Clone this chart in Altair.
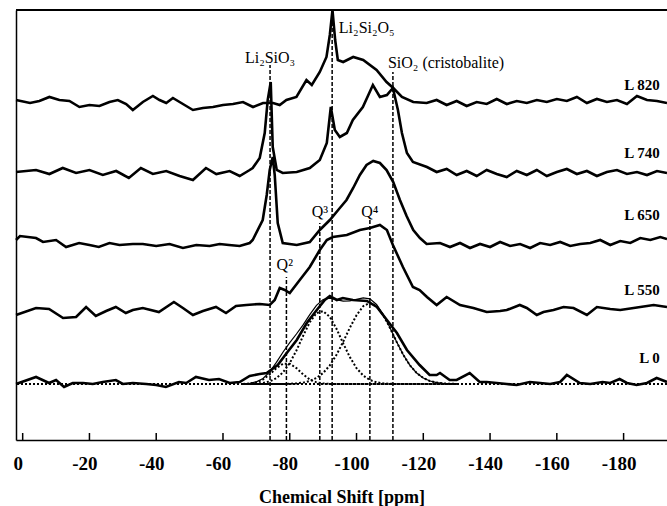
import altair as alt
import pandas as pd

# ---------------- data (chemical shift in ppm, intensity in arbitrary units) ----------------
l820_ppm = [2.0, -2.2, -5, -8, -11, -14, -17, -20, -23, -26, -28.5, -31, -33, -36, -39, -41, -43, -45,
            -48, -51, -54, -57, -60, -63, -66, -69, -72, -75, -77, -79, -82, -85, -86.6, -89, -91, -92.0,
            -92.8, -93.6, -94.4, -96, -99, -102, -106, -109, -111, -113.6, -117, -121, -124, -127, -130,
            -133, -136, -139, -142, -145, -148, -151, -154, -157, -160, -163, -166, -169, -172, -175,
            -178, -181, -184, -187, -190, -193]
l820_int = [340, 337, 339, 343, 340, 339, 333, 335, 334, 338, 340, 336, 330, 338, 344, 340, 337, 342,
            336, 330, 332, 333, 335, 336, 338, 333, 337, 337, 335, 340, 343, 360, 355, 368, 383, 405,
            430, 400, 380, 378, 383, 380, 370, 358, 352, 343, 338, 337, 340, 335, 339,
            334, 338, 336, 341, 336, 339, 337, 340, 338, 341, 339, 343, 337, 341, 338,
            340, 336, 344, 340, 339, 337]

l740_ppm = [2, -4, -8, -12, -16, -20, -24, -28, -31.8, -35.4, -39, -43, -47, -51, -54.9, -58, -62, -65,
            -68, -68.9, -71, -72.5, -73.4, -74.3, -74.9, -76.1, -77.9, -82.1, -86, -89, -91.1, -92.3,
            -93.5, -95, -97.1, -98.9, -101.9, -104.9, -107, -109.1, -110.9, -112.4, -113.6, -115.1,
            -116.9, -121.1, -124, -127, -130, -133, -136, -139, -142, -145, -148, -151, -154, -157,
            -160, -163, -166, -169, -172, -175, -178, -181, -184, -187, -190, -193]
l740_int = [268, 270, 266, 272, 267, 270, 265, 269, 262, 272, 266, 269, 264, 260, 272, 266, 269, 264,
            270, 272, 282, 307, 340, 358, 293, 270, 267, 268, 272, 280, 297, 333,
            310, 303, 307, 320, 333, 355, 343, 345, 352, 330, 307, 287,
            278, 273, 268, 271, 265, 269, 264, 270, 266, 263, 269, 265, 270, 264,
            268, 271, 266, 269, 264, 268, 270, 266, 268, 265, 269, 267]

l650_ppm = [2, 0.8, -4, -6.1, -10, -13, -16.9, -20, -22.8, -26, -29, -33, -36, -40, -44, -48, -52, -56,
            -59, -61.8, -65, -68, -68.9, -71.9, -73.1, -74.0, -74.9, -75.5, -76.4, -77.9, -82.1, -86,
            -89, -92, -95, -97, -99, -101, -103, -105, -107, -109, -111, -113, -115, -117, -119, -121,
            -125, -128, -131, -134, -137, -140, -143, -146, -149, -152, -155, -158, -161, -164, -167,
            -170, -173, -176, -179, -182, -185, -188, -191, -193]
l650_int = [200, 204, 202, 198, 200, 193, 197, 195, 193, 197, 195, 196, 196, 194, 196, 192, 195, 194,
            196, 195, 194, 197, 200, 220, 245, 270, 283, 265, 217, 197, 195, 198,
            210, 220, 232, 240, 252, 265, 275, 279, 277, 270, 258, 240, 224, 210, 202, 196,
            197, 193, 197, 192, 196, 193, 198, 194, 196, 192, 197, 195, 198, 194, 196,
            197, 200, 195, 199, 197, 202, 200, 203, 201]

l550_ppm = [2, -4, -7.9, -12.1, -16, -19, -21.9, -25, -27.9, -30.9, -33, -36, -40.8, -45.3, -48, -51,
            -54, -57.9, -60.9, -63.9, -67, -71, -74, -75.5, -77, -78.5, -80, -83, -86, -89, -91.1,
            -92.9, -97.1, -101, -104, -107, -109.1, -110.9, -113.9, -116.9, -118.9, -121.1, -124,
            -127, -131, -135, -139, -143, -145, -148.9, -151, -154, -156, -159, -162, -165, -169,
            -172, -176, -179, -183, -189, -193]
l550_int = [125, 132, 131, 122, 123, 133, 124, 129, 133, 127, 130, 132, 128, 138, 132, 125,
            129, 133, 127, 134, 135, 136, 135, 140, 152, 150, 147, 160, 173, 190, 200,
            203, 205, 210, 212, 215, 210, 195, 173, 153, 150, 143, 135,
            143, 135, 132, 128, 129, 130, 135, 132, 125, 128, 130, 133, 132, 125,
            133, 131, 130, 132, 135, 133]

l0_ppm = [2, -4, -7.9, -10, -12.4, -15, -18.1, -21, -24, -27.9, -30, -33, -37, -40, -42.9, -46.8, -49,
          -51.9, -55.8, -58.8, -62, -65, -68, -71, -73.1, -76.4, -79.1, -82.1, -85.1, -88.1, -90.5,
          -92, -94.1, -95.9, -98.9, -103.1, -106.1, -109.1, -112.1, -115.1, -118.9, -121.9, -124,
          -125, -127.9, -130, -133.9, -136.9, -139, -142, -145, -148, -151.9, -155, -158, -161,
          -163, -166.9, -170, -173.7, -176, -178.8, -181, -183.9, -187, -189.9, -193]
l0_int = [56, 63, 57, 60, 53, 57, 57, 56, 58, 60, 56, 57, 56, 55, 53, 58, 57,
          63, 60, 61, 57, 58, 64, 66, 67, 75, 87, 100, 117, 130, 140,
          144, 140, 142, 140, 139, 133, 120, 107, 90, 75, 65, 65,
          67, 60, 60, 67, 58, 58, 57, 56, 55, 58, 57, 56, 58,
          65, 57, 56, 58, 57, 61, 57, 55, 57, 62, 58]

# Gaussian deconvolution of L 0 (Q2, Q3, Q4)
fit_ppm = [-66, -68, -70, -72, -74, -76, -78, -80, -82, -84, -86, -88, -90, -92, -94, -96, -98,
           -100, -102, -104, -106, -108, -110, -112, -114, -116, -118, -120, -122, -124, -126,
           -128, -130]
q2_int = [0.1, 0.5, 1.7, 4.5, 9.6, 15.9, 20.3, 20.3, 15.9, 9.6, 4.5, 1.7, 0.5, 0.1] + [0] * 19
q3_int = [0.0, 0.1, 0.4, 1.0, 2.6, 5.8, 11.7, 20.9, 33.5, 48.1, 61.8, 70.9, 72.9, 67.1, 55.2, 40.7,
          26.9, 15.9, 8.4, 4.0, 1.7, 0.7, 0.2] + [0] * 10
q4_int = [0] * 7 + [0.2, 0.6, 1.4, 3.0, 6.0, 11.0, 18.6, 29.2, 42.2, 56.2, 68.8, 77.8, 81.1, 77.8,
                    68.8, 56.2, 42.2, 29.2, 18.6, 11.0, 6.0, 3.0, 1.4, 0.6, 0.2, 0.1]
l0_base = 56

# reference positions (dashed lines) and their label heights
ref_ppm = [-74.1, -79.0, -89.0, -92.7, -104.0, -110.9]
ref_top = [375, 163, 217, 430, 222, 368]

tick_values = [0, -20, -40, -60, -80, -100, -120, -140, -160, -180]

phase_labels = ["Li₂SiO₃", "Li₂Si₂O₅", "SiO₂ (cristobalite)", "Q²", "Q³", "Q⁴"]
phase_ppm = [-74.1, -94.7, -109.4, -78.5, -89.0, -104.0]
phase_int = [382, 412, 377, 175, 228, 228]
phase_align = ["center", "left", "left", "center", "center", "center"]

sample_labels = ["L 820", "L 740", "L 650", "L 550", "L 0"]
sample_int = [355, 287, 225, 150, 82]
sample_ppm = -190.8

# ---------------- tables ----------------
series = [("L 820", l820_ppm, l820_int), ("L 740", l740_ppm, l740_int), ("L 650", l650_ppm, l650_int),
          ("L 550", l550_ppm, l550_int), ("L 0", l0_ppm, l0_int)]
traces = pd.concat([pd.DataFrame({"series": n, "ppm": p, "h": v}) for n, p, v in series],
                   ignore_index=True)

comps = pd.concat([pd.DataFrame({"comp": n, "ppm": fit_ppm, "h": [l0_base + c for c in v]})
                   for n, v in [("Q2", q2_int), ("Q3", q3_int), ("Q4", q4_int)]], ignore_index=True)
fit_sum = pd.DataFrame({"ppm": fit_ppm,
                        "h": [l0_base + a + b + c for a, b, c in zip(q2_int, q3_int, q4_int)]})

refs = pd.DataFrame({"ppm": ref_ppm, "top": ref_top, "bottom": [0] * len(ref_ppm)})
ticks = pd.DataFrame({"ppm": tick_values})
phases = pd.DataFrame({"label": phase_labels, "ppm": phase_ppm, "h": phase_int, "align": phase_align})
samples = pd.DataFrame({"label": sample_labels, "h": sample_int, "ppm": [sample_ppm] * 5})

# ---------------- chart ----------------
W, H = 651, 430
FONT = "Liberation Serif"
xs = alt.Scale(domain=[2, -193], nice=False, zero=False)
ys = alt.Scale(domain=[0, 430], nice=False, zero=False)

x_enc = alt.X("ppm:Q", scale=xs,
              axis=alt.Axis(values=tick_values, labelExpr="datum.value + ''", ticks=False, grid=False,
                            title="Chemical Shift [ppm]", labelFont=FONT, labelFontSize=19,
                            labelFontWeight="bold", labelColor="black", labelPadding=14,
                            labelOffset=-5, titleFont=FONT, titleFontSize=18, titleFontWeight="bold",
                            titleColor="black", titlePadding=15, domainColor="black",
                            domainWidth=1.5, labelFlush=False))
y_enc = alt.Y("h:Q", scale=ys,
              axis=alt.Axis(labels=False, ticks=False, grid=False, title=None, domainColor="black",
                            domainWidth=1.5))

lines = alt.Chart(traces).mark_line(color="black", strokeWidth=2.6).encode(
    x=x_enc, y=y_enc, detail="series:N")

comp_lines = alt.Chart(comps).mark_line(color="black", strokeWidth=2, strokeDash=[2, 2]).encode(
    x="ppm:Q", y="h:Q", detail="comp:N")

sum_line = alt.Chart(fit_sum).mark_line(color="black", strokeWidth=1.2).encode(x="ppm:Q", y="h:Q")

baseline = alt.Chart(fit_sum).mark_rule(color="black", strokeWidth=2, strokeDash=[2, 2]).encode(
    y=alt.datum(l0_base))

ref_lines = alt.Chart(refs).mark_rule(color="black", strokeWidth=1.5, strokeDash=[4, 2]).encode(
    x="ppm:Q", y="bottom:Q", y2="top:Q")

tick_marks = alt.Chart(ticks).mark_rule(color="black", strokeWidth=1.5).encode(
    x="ppm:Q", y=alt.value(H), y2=alt.value(H - 7))

top_border = alt.Chart(ticks).mark_rule(color="black", strokeWidth=1.5).encode(
    x=alt.value(0), x2=alt.value(W), y=alt.value(0))

phase_center = alt.Chart(phases).transform_filter(alt.datum.align == "center").mark_text(
    font=FONT, fontSize=16, color="black", baseline="middle", align="center").encode(
    x="ppm:Q", y="h:Q", text="label:N")
phase_left = alt.Chart(phases).transform_filter(alt.datum.align == "left").mark_text(
    font=FONT, fontSize=16, color="black", baseline="middle", align="left").encode(
    x="ppm:Q", y="h:Q", text="label:N")

sample_text = alt.Chart(samples).mark_text(font=FONT, fontSize=15, fontWeight="bold", color="black",
                                           align="right", baseline="middle").encode(
    x="ppm:Q", y="h:Q", text="label:N")

chart = alt.layer(ref_lines, baseline, comp_lines, sum_line, lines, tick_marks, top_border,
                  phase_center, phase_left, sample_text).properties(
    width=W, height=H,
    autosize=alt.AutoSizeParams(type="none"),
    padding={"left": 16, "top": 10, "right": 0, "bottom": 66},
).configure_view(stroke=None).configure(background="white")

chart.save("out.html", embed_options={"renderer": "svg", "actions": False})
